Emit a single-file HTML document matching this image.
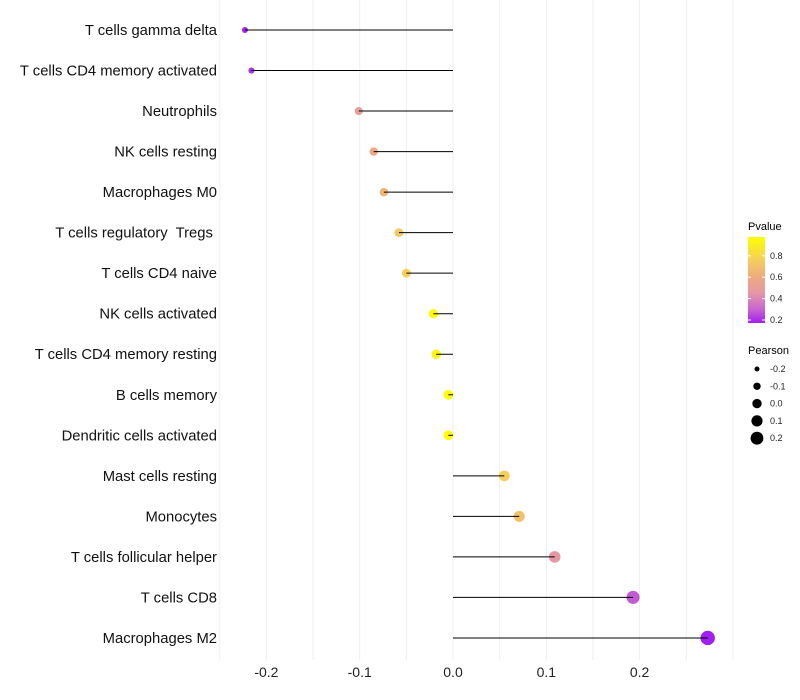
<!DOCTYPE html>
<html><head><meta charset="utf-8"><style>
body{margin:0;background:#fff;font-family:"Liberation Sans",sans-serif;}
svg{display:block}
</style></head><body>
<svg id="chart" width="800" height="700">
<defs><linearGradient id="pg" x1="0" y1="1" x2="0" y2="0">
<stop offset="0" stop-color="#a020f0"/><stop offset="0.16" stop-color="#c864d0"/><stop offset="0.35" stop-color="#e498a4"/><stop offset="0.53" stop-color="#eeaa80"/><stop offset="0.72" stop-color="#f4cc62"/><stop offset="1" stop-color="#ffff00"/></linearGradient></defs>
<g id="grid"></g>
<g id="marks"></g>
<g id="labels"></g>
<g>
<text x="748" y="230" font-size="11">Pvalue</text>
<rect x="748" y="237" width="17" height="86" fill="url(#pg)"/>
<g id="cbticks"></g>
</g>
<g id="sizeleg">
<text x="748" y="354" font-size="11">Pearson</text>
</g>
</svg>
<script>
const categories=["T cells gamma delta","T cells CD4 memory activated","Neutrophils","NK cells resting","Macrophages M0","T cells regulatory  Tregs ","T cells CD4 naive","NK cells activated","T cells CD4 memory resting","B cells memory","Dendritic cells activated","Mast cells resting","Monocytes","T cells follicular helper","T cells CD8","Macrophages M2"];
const pearson=[-0.223,-0.216,-0.101,-0.085,-0.074,-0.058,-0.050,-0.021,-0.018,-0.005,-0.005,0.055,0.071,0.109,0.193,0.273];
const pvalues=[0.18,0.2,0.5,0.58,0.65,0.74,0.77,0.95,0.93,0.98,0.98,0.76,0.7,0.45,0.28,0.17];
const xTicks=[-0.2,-0.1,0.0,0.1,0.2];
const cbTicks=[0.2,0.4,0.6,0.8];
const sizeTicks=[-0.2,-0.1,0.0,0.1,0.2];
const NS="http://www.w3.org/2000/svg";
const x=v=>453+v*933;
const y=i=>30+i*40.53;
const r=v=>Math.max(2,4.9+8.5*v);
const cy=p=>320-(p-0.2)*107;
const stops=[[0.17,[160,32,240]],[0.3,[200,100,208]],[0.45,[228,152,164]],[0.6,[238,170,128]],[0.75,[244,204,98]],[0.98,[255,255,0]]];
function col(p){p=Math.max(0.17,Math.min(0.98,p));
for(let i=0;i<stops.length-1;i++){const [p0,a]=stops[i],[p1,b]=stops[i+1];
if(p<=p1){const t=(p-p0)/(p1-p0);return `rgb(${a.map((c,k)=>Math.round(c+(b[k]-c)*t)).join(',')})`;}}
return 'rgb(255,255,0)';}
function mk(tag,at,par){const e=document.createElementNS(NS,tag);for(const k in at)e.setAttribute(k,at[k]);par.appendChild(e);return e;}
const grid=document.getElementById('grid'),marks=document.getElementById('marks'),labels=document.getElementById('labels');
for(let v=-0.25;v<=0.301;v+=0.05){const g=mk('line',{x1:x(v),x2:x(v),y1:0,y2:660,stroke:'#efefef','stroke-width':1},grid);

}
xTicks.forEach(v=>{const t=mk('text',{x:x(v),y:677,'font-size':14,'text-anchor':'middle',fill:'#222'},labels);t.textContent=v.toFixed(1);

});
categories.forEach((c,i)=>{
const t=mk('text',{x:217,y:y(i)+5,'font-size':14.8,'text-anchor':'end',fill:'#111',style:'white-space:pre'},labels);t.textContent=c;


const d=mk('circle',{cx:x(pearson[i]),cy:y(i),r:r(pearson[i]),fill:col(pvalues[i])},marks);


const l=mk('line',{x1:x(0),x2:x(pearson[i]),y1:y(i),y2:y(i),stroke:'#000','stroke-width':1},marks);


});
const cbt=document.getElementById('cbticks');
cbTicks.forEach(p=>{mk('line',{x1:748,x2:751,y1:cy(p),y2:cy(p),stroke:'#fff'},cbt);mk('line',{x1:762,x2:765,y1:cy(p),y2:cy(p),stroke:'#fff'},cbt);
const t=mk('text',{x:770,y:cy(p)+3,'font-size':9,fill:'#222'},cbt);t.textContent=p.toFixed(1);

});
const sl=document.getElementById('sizeleg');
const legR=[2.5,3.7,4.7,5.6,6.4];
sizeTicks.forEach((v,i)=>{const yy=369+i*17.3;
const c=mk('circle',{cx:757,cy:yy,r:legR[i],fill:'#000'},sl);


const t=mk('text',{x:770,y:yy+3,'font-size':9,fill:'#222'},sl);t.textContent=v.toFixed(1);

});
</script>
</body></html>
